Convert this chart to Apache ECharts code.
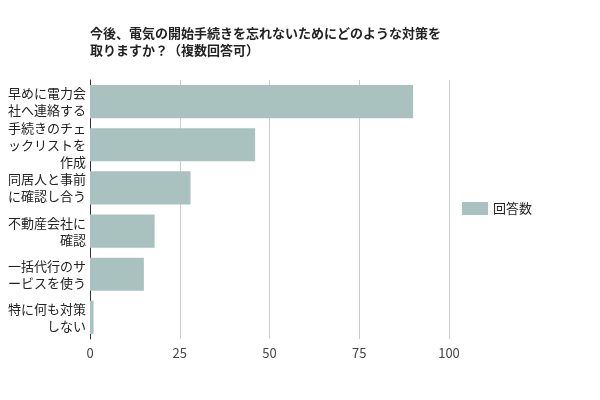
<!DOCTYPE html>
<html>
<head>
<meta charset="utf-8">
<title>対策</title>
<script src="https://cdn.jsdelivr.net/npm/echarts@6/dist/echarts.min.js"></script>
<style>
  html, body { margin: 0; padding: 0; background: #fff; }
  #chart { width: 600px; height: 400px; }
</style>
</head>
<body>
<div id="chart"></div>
<script>
// 選択肢（上から順）
var categories = [
  '早めに電力会社へ連絡する',
  '手続きのチェックリストを作成',
  '同居人と事前に確認し合う',
  '不動産会社に確認',
  '一括代行のサービスを使う',
  '特に何も対策しない'
];
// 回答数
var answers = [90, 46, 28, 18, 15, 1];
var seriesName = '回答数';
var titleText = '今後、電気の開始手続きを忘れないためにどのような対策を\n取りますか？（複数回答可）';

var font = '"Noto Sans CJK JP", "Noto Sans", sans-serif';

// 6文字ごとに改行
function wrap(s) {
  var out = [];
  for (var i = 0; i < s.length; i += 6) out.push(s.slice(i, i + 6));
  return out.join('\n');
}

var chart = echarts.init(document.getElementById('chart'));
chart.setOption({
  animation: false,
  title: {
    text: titleText,
    left: 85,
    top: 20,
    textStyle: { fontFamily: font, fontSize: 13, fontWeight: 'bold', color: '#222', lineHeight: 17 }
  },
  legend: {
    data: [seriesName],
    left: 457,
    top: 197,
    orient: 'vertical',
    icon: 'rect',
    itemWidth: 26,
    itemHeight: 13,
    textStyle: { fontFamily: font, fontSize: 13, color: '#222' }
  },
  grid: { left: 90, right: 151, top: 80, bottom: 61, containLabel: false },
  xAxis: {
    type: 'value',
    min: 0,
    max: 100,
    interval: 25,
    axisLine: { show: false },
    axisTick: { show: false },
    axisLabel: { fontFamily: font, fontSize: 13, color: '#444', margin: 8 },
    splitLine: { lineStyle: { color: '#ccc', width: 1 } }
  },
  yAxis: {
    type: 'category',
    inverse: true,
    data: categories,
    axisLine: { show: true, lineStyle: { color: '#333', width: 1 } },
    axisTick: { show: false },
    axisLabel: {
      fontFamily: font, fontSize: 13, color: '#222', lineHeight: 17, margin: 4,
      formatter: wrap
    }
  },
  series: [{
    name: seriesName,
    type: 'bar',
    data: answers,
    barCategoryGap: '23%',
    itemStyle: { color: '#a9c1bf' }
  }]
});
</script>
</body>
</html>
